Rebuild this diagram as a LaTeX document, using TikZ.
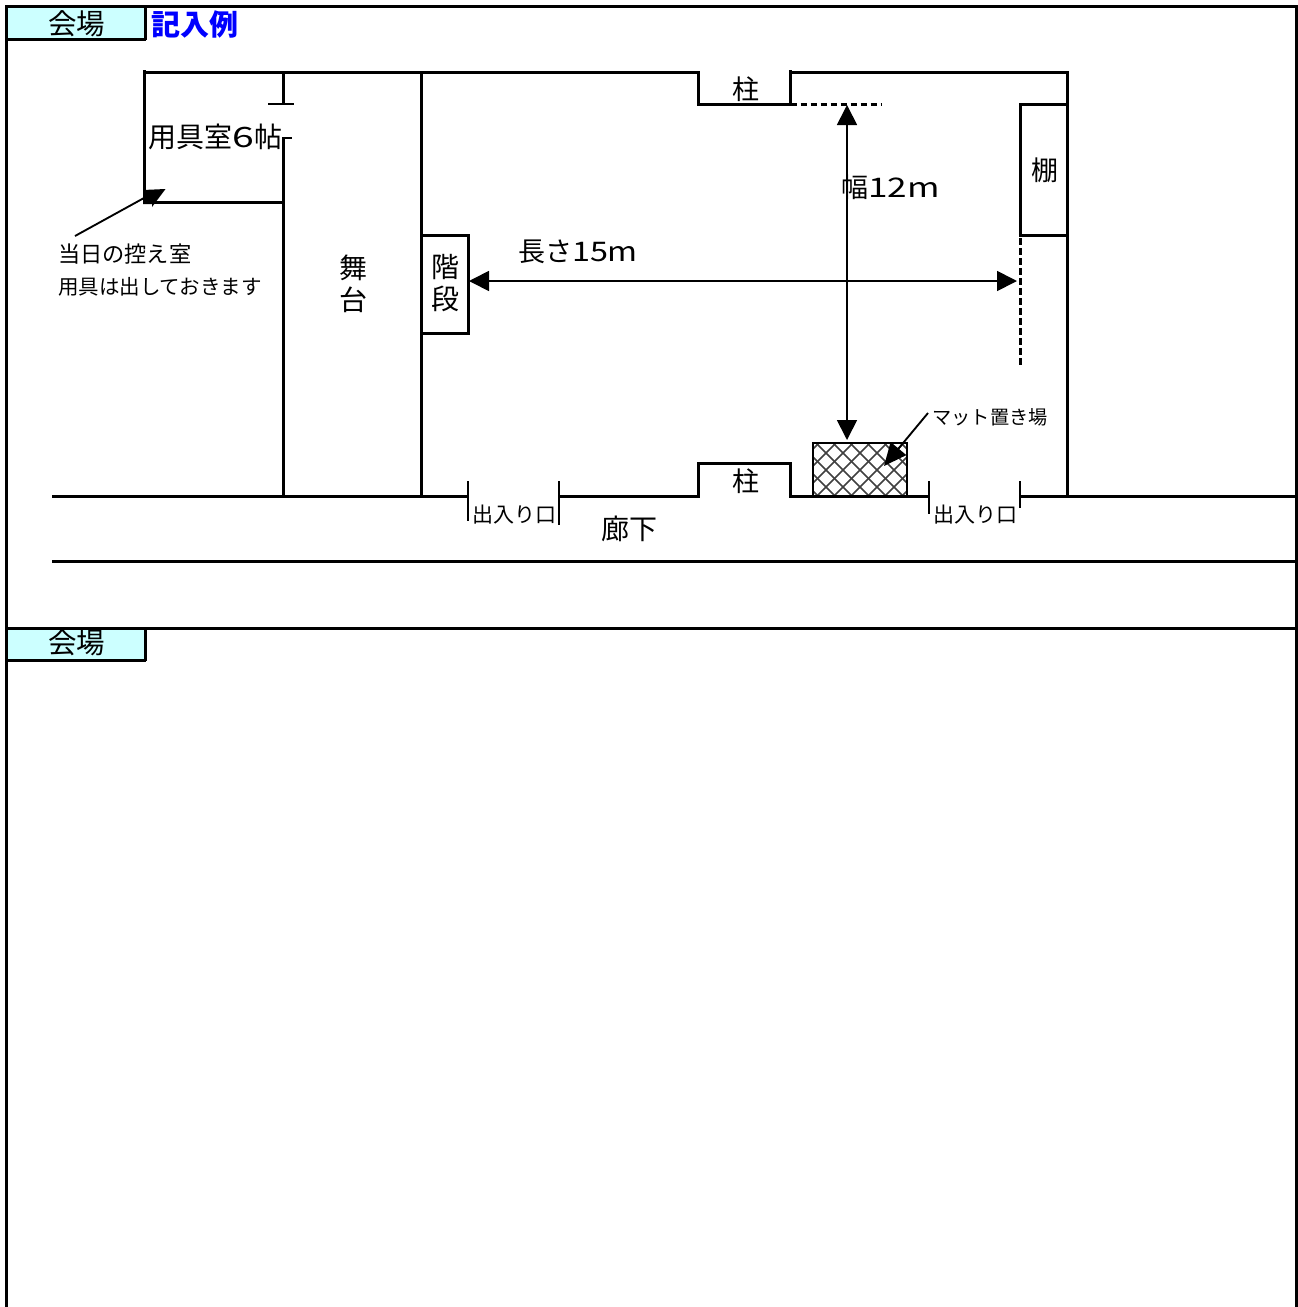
\documentclass[tikz,border=0pt]{standalone}
\usepackage{fontspec}
\setmainfont{Noto Sans CJK JP}
\usetikzlibrary{arrows.meta}
\definecolor{tabcyan}{HTML}{CCFFFF}
\definecolor{exblue}{HTML}{0000FF}
\newcommand{\px}[1]{\fontsize{\dimexpr #1pt*3/4\relax}{\dimexpr #1pt*3/4\relax}\selectfont}
\newcommand{\wide}[1]{\scalebox{1.3}[1]{#1}}
\tikzset{
  x=0.75pt,y=-0.75pt,
  frame/.style={line width=2.2pt,line cap=rect},
  wall/.style={line width=2.2pt,line join=miter},
  thin wall/.style={line width=1.3pt},
  dash wall/.style={line width=2.2pt,dash pattern=on 5pt off 2.5pt},
  dim/.style={line width=1.3pt,{Triangle[length=15pt,width=15pt]}-{Triangle[length=15pt,width=15pt]}},
  lead/.style={line width=1.4pt,-{Triangle[length=17pt,width=15pt]}},
  leadplain/.style={line width=1.4pt},
  lab/.style={inner sep=0pt,outer sep=0pt,text=black},
}
\begin{document}
\begin{tikzpicture}
\useasboundingbox (0,0) rectangle (1298,1307);
\fill[white] (0,0) rectangle (1298,1307);
% tabs
\fill[tabcyan] (7,7) rectangle (145,39);
\fill[tabcyan] (7,629) rectangle (145,660);
% frame
\draw[frame] (6.5,1307) -- (6.5,6.5) -- (1296.5,6.5) -- (1296.5,1307);
\draw[frame] (6.5,628.5) -- (1296.5,628.5);
\draw[wall] (6.5,39.5) -- (146,39.5) (145.5,6.5) -- (145.5,39.5);
\draw[wall] (6.5,660.5) -- (146,660.5) (145.5,628.5) -- (145.5,660.5);
% mat
\begin{scope}
\clip (813,443) rectangle (907,496);
\foreach \k in {-12,...,12}{
  \draw[line width=1.2pt,black!75] (860+\k*17-60,470-60) -- (860+\k*17+60,470+60);
  \draw[line width=1.2pt,black!75] (860+\k*17-60,470+60) -- (860+\k*17+60,470-60);
}
\end{scope}
\draw[line width=1.3pt] (813,443) rectangle (907,496);
% walls
\draw[wall] (144.5,70) -- (144.5,202.5) -- (283.5,202.5);
\draw[wall] (144.5,72.5) -- (698.5,72.5) -- (698.5,104.5) -- (790.5,104.5) -- (790.5,70);
\draw[wall] (790.5,72.5) -- (1067.5,72.5) -- (1067.5,496.5);
\draw[wall] (283.5,72.5) -- (283.5,103);
\draw[thin wall] (268,104) -- (294,104);
\draw[wall] (283.5,137) -- (283.5,496.5);
\draw[thin wall] (283,138) -- (292,138);
\draw[wall] (421.5,72.5) -- (421.5,496.5);
\draw[wall] (421.5,235.5) -- (468.5,235.5) -- (468.5,333.5) -- (421.5,333.5);
\draw[wall] (1067.5,104.5) -- (1020.5,104.5) -- (1020.5,235.5) -- (1067.5,235.5);
\draw[dash wall] (790.5,104.5) -- (882,104.5);
\draw[dash wall] (1020.5,238) -- (1020.5,365);
\draw[wall] (52,496.5) -- (468,496.5);
\draw[wall] (558,496.5) -- (698.5,496.5) -- (698.5,463.5) -- (790.5,463.5) -- (790.5,496.5) -- (929,496.5);
\draw[wall] (1020,496.5) -- (1297,496.5);
\draw[wall] (52,561.5) -- (1297,561.5);
\draw[thin wall] (468,481) -- (468,521) (559,481) -- (559,525);
\draw[thin wall] (929,481) -- (929,514) (1020,481) -- (1020,508);
% dimension arrows
\coordinate (hl) at (469,281);
\coordinate (hr) at (1017,281);
\coordinate (vt) at (847,105);
\coordinate (vb) at (847,440);
\draw[dim] (hl) -- (hr);
\draw[dim] (vt) -- (vb);
% leaders
\coordinate (matfrom) at (928,413);
\coordinate (matto) at (884,466);
\draw[lead] (matfrom) -- (matto);
\coordinate (roomfrom) at (75,236);
\coordinate (roomto) at (144,198);
\draw[leadplain] (roomfrom) -- (roomto);
\fill (143,190) -- (165.5,189) -- (152,207) -- (152,204) -- (143,204) -- cycle;
% labels
\node[lab] (t1) at (76.5,24) {\px{28.5}会場};
\node[lab] (t2) at (76.5,643) {\px{28.5}会場};
\node[lab,text=exblue] (ex) at (194.5,24) {\px{29}\bfseries 記入例};
\node[lab] (room) at (215.5,137) {\px{28}用具室\scalebox{1.4}[1]{6}帖};
\node[lab,anchor=west] (n1) at (58,254.5) {\px{22.2}当日の控え室};
\node[lab,anchor=west] (n2) at (58,287) {\px{20.5}用具は出しておきます};
\node[lab] (s1) at (353,268) {\px{28}舞};
\node[lab] (s2) at (353,300) {\px{28}台};
\node[lab] (k1) at (445.5,267) {\px{28}階};
\node[lab] (k2) at (445.5,299) {\px{28}段};
\node[lab] (len) at (578,252) {\px{27}長さ\scalebox{1.2}[1]{15m}};
\node[lab] (wid) at (890.5,187) {\px{27}幅\wide{12m}};
\node[lab] (sh) at (1044.5,170) {\px{27}棚};
\node[lab] (p1) at (745.5,89.5) {\px{27}柱};
\node[lab] (p2) at (745.5,481.5) {\px{27}柱};
\node[lab] (d1) at (514,515) {\px{21}出入り口};
\node[lab] (d2) at (975.5,515) {\px{21}出入り口};
\node[lab] (cor) at (629.5,529) {\px{28}廊下};
\node[lab] (mat) at (990,417) {\px{19.2}マット置き場};
\end{tikzpicture}
\end{document}
